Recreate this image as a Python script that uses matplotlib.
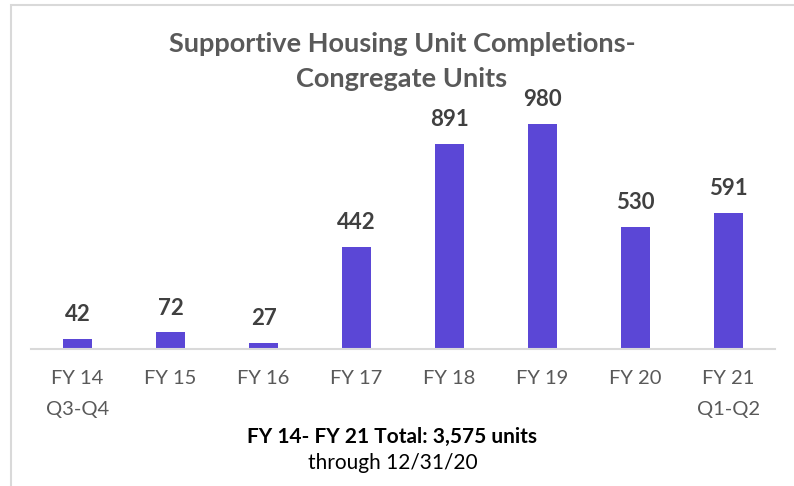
import matplotlib.pyplot as plt
from matplotlib.patches import Rectangle

categories = ['FY 14\nQ3-Q4', 'FY 15', 'FY 16', 'FY 17', 'FY 18', 'FY 19', 'FY 20', 'FY 21\nQ1-Q2']
units = [42, 72, 27, 442, 891, 980, 530, 591]

plt.rcParams['font.family'] = ['Lato', 'DejaVu Sans']

fig = plt.figure(figsize=(7.94, 4.86), dpi=100)
W, H = 794, 486

# chart frame (cropped on the right and bottom like the original)
fig.patches.append(Rectangle((11 / W, -0.1), 1.2, 1 - 5 / H + 0.1, transform=fig.transFigure,
                             fill=False, edgecolor='#D9D9D9', linewidth=1.5))

ax = fig.add_axes([31 / W, 1 - 349 / H, 744 / W, (349 - 73) / H])
x = range(len(categories))
bars = ax.bar(x, units, width=0.31, color='#5B47D6')
ax.set_xlim(-0.5, len(categories) - 0.5)
ax.set_ylim(0, 1200)

for b, v in zip(bars, units):
    ax.annotate(str(v), (b.get_x() + b.get_width() / 2, v), xytext=(0, 10),
                textcoords='offset points', ha='center', va='bottom',
                fontsize=16, fontweight='bold', color='#404040')

ax.set_xticks(list(x))
ax.set_xticklabels(categories, fontsize=14.5, color='#595959', linespacing=2.0)
ax.tick_params(axis='x', length=0, pad=15)
ax.set_yticks([])
for s in ['top', 'right', 'left']:
    ax.spines[s].set_visible(False)
ax.spines['bottom'].set_color('#D9D9D9')
ax.spines['bottom'].set_linewidth(1.5)

fig.text(402 / W, 1 - 44 / H, 'Supportive Housing Unit Completions-', ha='center', va='center',
         fontsize=19.5, fontweight='bold', color='#595959')
fig.text(402 / W, 1 - 79 / H, 'Congregate Units', ha='center', va='center',
         fontsize=19.5, fontweight='bold', color='#595959')

fig.text(392 / W, 1 - 437 / H, 'FY 14- FY 21 Total: 3,575 units', ha='center', va='center',
         fontsize=15, fontweight='bold', color='black')
fig.text(393 / W, 1 - 463 / H, 'through 12/31/20', ha='center', va='center',
         fontsize=15, color='black')

plt.savefig('out.png', dpi=100)
